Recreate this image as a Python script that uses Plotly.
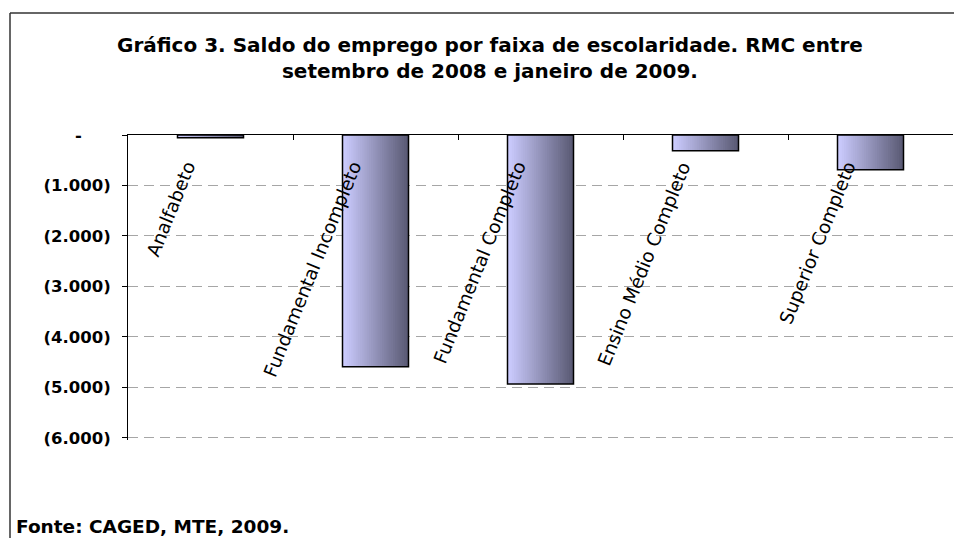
import plotly.graph_objects as go

# Data
CATEGORIES = ['Analfabeto', 'Fundamental Incompleto', 'Fundamental Completo',
              'Ensino Médio Completo', 'Superior Completo']
SALDO = [-55, -4590, -4930, -310, -690]
Y_TICKS = [0, -1000, -2000, -3000, -4000, -5000, -6000]
Y_TICK_LABELS = ['-' + '\u00a0' * 5, '(1.000)', '(2.000)', '(3.000)',
                 '(4.000)', '(5.000)', '(6.000)']
TITLE = ('Gráfico 3. Saldo do emprego por faixa de escolaridade. RMC entre<br>'
         'setembro de 2008 e janeiro de 2009.')
SOURCE = 'Fonte: CAGED, MTE, 2009.'

# Page / plot area in pixels
W, H = 955, 538
PLOT_L, PLOT_R, PLOT_T, PLOT_B = 128, 953, 135, 440
FONT = 'DejaVu Sans'
BAR_W = 0.4
N_SLICES = 30
LEFT_RGB = (204, 204, 255)
RIGHT_RGB = (90, 90, 116)


def px_x(xp):
    return (xp - PLOT_L) / (PLOT_R - PLOT_L)


def px_y(yp):
    return (PLOT_B - yp) / (PLOT_B - PLOT_T)


def mix(t):
    r, g, b = [round(a + (c - a) * t) for a, c in zip(LEFT_RGB, RIGHT_RGB)]
    return f'rgb({r},{g},{b})'


fig = go.Figure()

# horizontal gradient fill: thin slices of the same bars
slice_w = BAR_W / N_SLICES
for k in range(N_SLICES):
    off = -BAR_W / 2 + k * slice_w
    w = min(slice_w * 1.4, BAR_W / 2 - off)
    fig.add_trace(go.Bar(
        x=CATEGORIES, y=SALDO,
        width=w, offset=off,
        marker=dict(color=mix(k / (N_SLICES - 1)), line=dict(width=0)),
        hoverinfo='skip', showlegend=False,
    ))

# outline
fig.add_trace(go.Bar(
    x=CATEGORIES, y=SALDO,
    width=BAR_W, offset=-BAR_W / 2,
    marker=dict(color='rgba(0,0,0,0)', line=dict(color='black', width=1.5)),
    hovertemplate='%{x}: %{y}<extra></extra>', showlegend=False,
))

# category labels hanging under the zero axis
for i, cat in enumerate(CATEGORIES):
    fig.add_annotation(
        x=i, y=0, xref='x', yref='y',
        text=cat, textangle=-68,
        xanchor='right', yanchor='top',
        xshift=-8, yshift=-21,
        showarrow=False,
        font=dict(family=FONT, size=18.5, color='black'),
    )

fig.add_annotation(
    x=px_x(490), y=px_y(58), xref='paper', yref='paper',
    text=TITLE, showarrow=False, align='center',
    xanchor='center', yanchor='middle',
    font=dict(family=FONT, size=20, color='black', weight='bold'),
)

fig.add_annotation(
    x=px_x(14), y=px_y(526), xref='paper', yref='paper',
    text=SOURCE, showarrow=False,
    xanchor='left', yanchor='middle',
    font=dict(family=FONT, size=18.5, color='black', weight='bold'),
)

# outer frame (top and left edges)
frame = dict(color='#333333', width=1.5)
fig.add_shape(type='line', xref='paper', yref='paper',
              x0=px_x(10), x1=px_x(954), y0=px_y(13), y1=px_y(13), line=frame)
fig.add_shape(type='line', xref='paper', yref='paper',
              x0=px_x(10), x1=px_x(10), y0=px_y(13), y1=px_y(H + 5), line=frame)

fig.update_layout(
    width=W, height=H,
    margin=dict(l=PLOT_L, r=W - PLOT_R, t=PLOT_T, b=H - PLOT_B, autoexpand=False),
    paper_bgcolor='white', plot_bgcolor='white',
    barmode='overlay',
    showlegend=False,
    xaxis=dict(
        type='category', side='top', range=[-0.5, 4.5],
        showline=True, linecolor='black', linewidth=1,
        ticks='inside', ticklen=5, tickcolor='black', tickson='boundaries',
        showticklabels=False, showgrid=False, zeroline=False, automargin=False,
    ),
    yaxis=dict(
        # a little room below -6000 so its dashed gridline is kept
        range=[-6040, 0], tickvals=Y_TICKS, ticktext=Y_TICK_LABELS,
        showline=True, linecolor='black', linewidth=1,
        ticks='outside', ticklen=5, tickcolor='black',
        ticklabelstandoff=8,
        tickfont=dict(family=FONT, size=16.5, color='black', weight='bold'),
        showgrid=True, gridcolor='#A6A6A6', gridwidth=1, griddash='10px,6px',
        zeroline=False, automargin=False,
    ),
)

# drop the page's default body margin so the figure sits at the window's corner
fig.write_html('out.html', config={'displayModeBar': False},
               post_script="document.body.style.margin = '0px';")
